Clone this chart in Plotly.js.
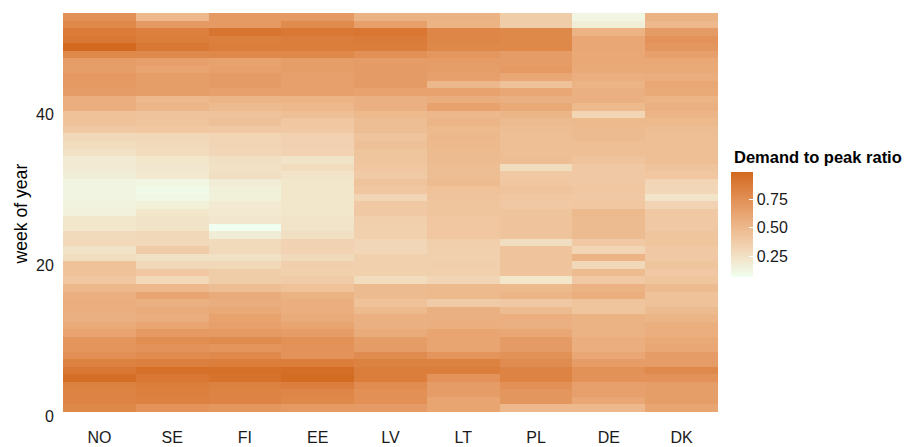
<!DOCTYPE html>
<html>
<head>
<meta charset="utf-8">
<script src="https://cdn.plot.ly/plotly-3.0.1.min.js"></script>
<style>html,body{margin:0;padding:0;background:#fff;}#chart{width:905px;height:447px;}</style>
</head>
<body>
<div id="chart"></div>
<script>
// Countries (x categories) and weeks (y)
const countries = ["NO","SE","FI","EE","LV","LT","PL","DE","DK"];
const weeks = Array.from({length:53}, (_, i) => i + 1);

// Demand to peak ratio per country, week 1 .. 53
const NO = [0.80,0.83,0.83,0.84,0.96,0.90,0.84,0.75,0.72,0.72,0.63,0.58,0.55,0.56,0.56,0.55,0.51,0.41,0.44,0.44,0.27,0.24,0.30,0.29,0.22,0.22,0.15,0.14,0.13,0.13,0.13,0.17,0.19,0.19,0.25,0.28,0.30,0.40,0.44,0.44,0.56,0.56,0.67,0.69,0.70,0.66,0.67,0.80,0.99,0.90,0.88,0.80,0.75];
const SE = [0.73,0.84,0.85,0.87,0.90,0.95,0.85,0.77,0.73,0.76,0.69,0.62,0.57,0.58,0.55,0.62,0.50,0.30,0.41,0.30,0.25,0.38,0.30,0.30,0.24,0.24,0.22,0.16,0.11,0.10,0.12,0.20,0.21,0.22,0.28,0.29,0.30,0.41,0.42,0.43,0.52,0.50,0.66,0.66,0.66,0.62,0.65,0.79,0.90,0.87,0.85,0.69,0.50];
const FI = [0.71,0.83,0.83,0.84,0.94,0.95,0.87,0.79,0.72,0.78,0.69,0.65,0.64,0.59,0.57,0.58,0.47,0.37,0.37,0.30,0.25,0.29,0.29,0.18,0.065,0.21,0.20,0.19,0.16,0.16,0.18,0.26,0.25,0.26,0.31,0.32,0.32,0.40,0.45,0.43,0.48,0.52,0.65,0.68,0.68,0.65,0.64,0.80,0.87,0.85,0.92,0.69,0.69];
const EE = [0.69,0.80,0.81,0.86,0.97,0.96,0.87,0.73,0.73,0.74,0.67,0.62,0.58,0.56,0.56,0.54,0.44,0.38,0.35,0.36,0.29,0.33,0.33,0.26,0.24,0.23,0.22,0.22,0.22,0.22,0.22,0.23,0.28,0.24,0.33,0.34,0.34,0.40,0.41,0.46,0.50,0.53,0.65,0.65,0.65,0.66,0.66,0.80,0.87,0.86,0.90,0.78,0.69];
const LV = [0.68,0.75,0.75,0.77,0.87,0.87,0.84,0.77,0.67,0.66,0.58,0.55,0.55,0.49,0.44,0.48,0.48,0.28,0.35,0.35,0.35,0.31,0.31,0.35,0.35,0.36,0.40,0.40,0.32,0.41,0.43,0.39,0.41,0.42,0.42,0.45,0.43,0.47,0.47,0.49,0.55,0.55,0.64,0.68,0.68,0.68,0.67,0.75,0.87,0.88,0.91,0.65,0.54];
const LT = [0.62,0.62,0.67,0.67,0.73,0.87,0.84,0.72,0.62,0.62,0.62,0.56,0.55,0.55,0.38,0.49,0.49,0.32,0.35,0.36,0.35,0.35,0.36,0.41,0.41,0.41,0.42,0.42,0.43,0.44,0.48,0.47,0.47,0.48,0.48,0.49,0.50,0.49,0.52,0.50,0.64,0.57,0.64,0.51,0.65,0.66,0.67,0.71,0.80,0.81,0.81,0.53,0.54];
const PL = [0.50,0.71,0.71,0.75,0.83,0.83,0.77,0.74,0.68,0.68,0.61,0.55,0.56,0.48,0.40,0.52,0.49,0.22,0.43,0.43,0.43,0.43,0.27,0.43,0.43,0.43,0.42,0.40,0.41,0.43,0.41,0.40,0.28,0.47,0.46,0.46,0.46,0.47,0.48,0.52,0.59,0.55,0.61,0.44,0.61,0.69,0.67,0.67,0.80,0.80,0.80,0.37,0.37];
const DE = [0.50,0.61,0.65,0.65,0.73,0.74,0.67,0.61,0.56,0.56,0.54,0.54,0.54,0.42,0.42,0.56,0.54,0.40,0.48,0.30,0.53,0.32,0.40,0.48,0.48,0.48,0.49,0.41,0.40,0.41,0.40,0.40,0.40,0.43,0.46,0.46,0.48,0.48,0.49,0.32,0.49,0.55,0.55,0.53,0.56,0.59,0.60,0.60,0.61,0.61,0.53,0.17,0.12];
const DK = [0.62,0.66,0.66,0.66,0.73,0.79,0.67,0.67,0.61,0.59,0.56,0.56,0.52,0.48,0.44,0.44,0.48,0.42,0.40,0.42,0.40,0.40,0.42,0.42,0.40,0.40,0.40,0.33,0.23,0.31,0.32,0.41,0.43,0.46,0.46,0.46,0.46,0.47,0.49,0.52,0.55,0.53,0.59,0.61,0.57,0.59,0.60,0.65,0.71,0.73,0.68,0.50,0.54];
const legendTicks = [0.25, 0.50, 0.75];

const series = [NO, SE, FI, EE, LV, LT, PL, DE, DK];
const z = weeks.map((w, i) => series.map(s => s[i]));
const all = series.flat();
const zmin = Math.min(...all), zmax = Math.max(...all);

// Lab-space gradient (like ggplot2 scale_fill_gradient) from honeydew to chocolate
function srgbToLin(c){c/=255;return c<=0.04045?c/12.92:Math.pow((c+0.055)/1.055,2.4);}
function linToSrgb(c){c=c<=0.0031308?12.92*c:1.055*Math.pow(c,1/2.4)-0.055;return Math.max(0,Math.min(255,Math.round(c*255)));}
function toLab(hex){
  const r=srgbToLin(parseInt(hex.slice(1,3),16)),g=srgbToLin(parseInt(hex.slice(3,5),16)),b=srgbToLin(parseInt(hex.slice(5,7),16));
  let X=(0.4124*r+0.3576*g+0.1805*b)/0.95047,Y=0.2126*r+0.7152*g+0.0722*b,Z=(0.0193*r+0.1192*g+0.9505*b)/1.08883;
  const f=t=>t>0.008856?Math.cbrt(t):7.787*t+16/116;
  const fx=f(X),fy=f(Y),fz=f(Z);
  return [116*fy-16,500*(fx-fy),200*(fy-fz)];
}
function fromLab(L,a,bb){
  const fy=(L+16)/116,fx=fy+a/500,fz=fy-bb/200;
  const fi=t=>t*t*t>0.008856?t*t*t:(t-16/116)/7.787;
  const X=fi(fx)*0.95047,Y=fi(fy),Z=fi(fz)*1.08883;
  const r=3.2406*X-1.5372*Y-0.4986*Z,g=-0.9689*X+1.8758*Y+0.0415*Z,b=0.0557*X-0.2040*Y+1.0570*Z;
  return "rgb("+linToSrgb(r)+","+linToSrgb(g)+","+linToSrgb(b)+")";
}
const lo=toLab("#F0FFF0"), hi=toLab("#D2691E");
const colorscale=[];
for(let i=0;i<=20;i++){const t=i/20;colorscale.push([t,fromLab(lo[0]+(hi[0]-lo[0])*t,lo[1]+(hi[1]-lo[1])*t,lo[2]+(hi[2]-lo[2])*t)]);}

const font = "'Liberation Sans', Arial, sans-serif";
const trace = {
  type: "heatmap",
  x: countries,
  y: weeks,
  z: z,
  zmin: zmin, zmax: zmax,
  colorscale: colorscale,
  hoverinfo: "skip",
  colorbar: {
    x: (731-63)/655, xanchor: "left", xpad: 0,
    y: (416-172)/403, yanchor: "top", ypad: 0,
    thickness: 22, len: 105, lenmode: "pixels",
    outlinewidth: 0,
    tickvals: legendTicks, tickformat: ".2f", tickprefix: "\u00A0",
    ticks: "inside", ticklen: 4, tickcolor: "#ffffff", tickwidth: 1,
    tickfont: {family: font, size: 16, color: "#1a1a1a"},
    title: {text: ""}
  }
};

const layout = {
  width: 905, height: 447,
  margin: {l: 63, r: 187, t: 13, b: 31},
  paper_bgcolor: "#fff", plot_bgcolor: "#fff",
  font: {family: font, color: "#1a1a1a"},
  xaxis: {
    type: "category", showgrid: false, zeroline: false, showline: false,
    ticks: "outside", ticklen: 7, tickcolor: "rgba(0,0,0,0)",
    tickfont: {family: font, size: 16, color: "#1a1a1a"}, fixedrange: true
  },
  yaxis: {
    range: [0, 53.5], tickvals: [0, 20, 40], showgrid: false, zeroline: false, showline: false,
    ticks: "outside", ticklen: 5, tickcolor: "rgba(0,0,0,0)",
    tickfont: {family: font, size: 16, color: "#1a1a1a"}, fixedrange: true
  },
  annotations: [
    {text: "week of year", xref: "paper", yref: "paper", x: (20-63)/655, y: 0.5,
     xanchor: "center", yanchor: "middle", textangle: -90, showarrow: false,
     font: {family: font, size: 17.6, color: "#000"}},
    {text: "<b>Demand to peak ratio</b>", xref: "paper", yref: "paper", x: (732-63)/655, y: (416-157)/403,
     xanchor: "left", yanchor: "middle", showarrow: false,
     font: {family: font, size: 16.5, color: "#000"}}
  ]
};

Plotly.newPlot("chart", [trace], layout, {displayModeBar: false, staticPlot: true});
</script>
</body>
</html>
